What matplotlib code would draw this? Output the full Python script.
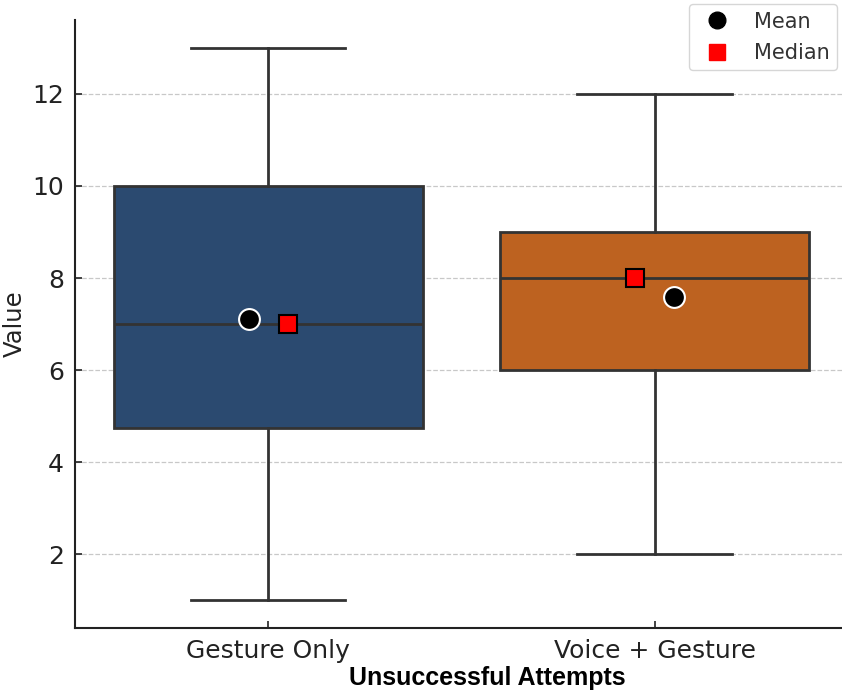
'''
Box plot of unsuccessful attempts
for the two interaction modes
'''

import matplotlib
matplotlib.use("Agg")
import matplotlib.pyplot as plt
from matplotlib.lines import Line2D

##################################

conditions = ["Gesture Only", "Voice + Gesture"]
whisk_lo = [1, 2]
q1 = [4.75, 6]
medians = [7, 8]
q3 = [10, 9]
whisk_hi = [13, 12]
means = [7.12, 7.58]

box_colors = ["#2b4a70", "#bd6220"]

##################################

fig = plt.figure(figsize=(8.42, 6.91), dpi=100)
ax = fig.add_axes([0.089, 0.091, 0.918, 0.88])

stats = []
for i in range(len(conditions)):
    stats.append({"label": conditions[i], "whislo": whisk_lo[i], "q1": q1[i],
                  "med": medians[i], "q3": q3[i], "whishi": whisk_hi[i], "fliers": []})

edge = "#333333"
bp = ax.bxp(stats, positions=range(len(conditions)), widths=0.8, patch_artist=True,
            showfliers=False,
            boxprops=dict(edgecolor=edge, linewidth=2),
            medianprops=dict(color=edge, linewidth=2),
            whiskerprops=dict(color=edge, linewidth=2),
            capprops=dict(color=edge, linewidth=2))
for patch, c in zip(bp["boxes"], box_colors):
    patch.set_facecolor(c)

# mean and median markers, nudged apart so both are visible
offsets = [(-0.05, 0.05), (0.05, -0.05)]
for i in range(len(conditions)):
    ax.plot(i + offsets[i][0], means[i], "o", color="black", markeredgecolor="white",
            markeredgewidth=1.5, markersize=15, zorder=5)
    ax.plot(i + offsets[i][1], medians[i], "s", color="red", markeredgecolor="black",
            markeredgewidth=1.5, markersize=13.5, zorder=5)

ax.set_xlim(-0.5, 1.5)
ax.set_ylim(0.4, 13.6)
ax.set_yticks([2, 4, 6, 8, 10, 12])
ax.set_xticks(range(len(conditions)))
ax.set_xticklabels(conditions)
ax.yaxis.grid(True, linestyle="--", color="#c8c8c8", linewidth=0.9)
ax.set_axisbelow(True)

for s in ["top", "right"]:
    ax.spines[s].set_visible(False)
for s in ["left", "bottom"]:
    ax.spines[s].set_color("#222222")
    ax.spines[s].set_linewidth(1.5)
ax.tick_params(direction="in", length=5, width=1.2, color="#222222",
               labelsize=18, labelcolor="#222222", pad=8)

ax.set_ylabel("Value", fontsize=17.5, color="#222222", labelpad=4)
ax.set_xlabel("Unsuccessful Attempts", fontsize=18, fontweight="bold",
              family="Liberation Sans", labelpad=2)
ax.xaxis.label.set_x(0.534)  # the label sits a bit right of centre

handles = [Line2D([], [], marker="o", color="black", linestyle="", markersize=12),
           Line2D([], [], marker="s", color="red", linestyle="", markersize=11.5)]
ax.legend(handles, ["Mean", "Median"], loc="upper right", bbox_to_anchor=(1.0, 1.043),
          fontsize=15, frameon=True, edgecolor="#cccccc", labelcolor="#333333",
          handletextpad=0.8, borderpad=0.35, labelspacing=0.55)

fig.savefig("out.png", dpi=100)
